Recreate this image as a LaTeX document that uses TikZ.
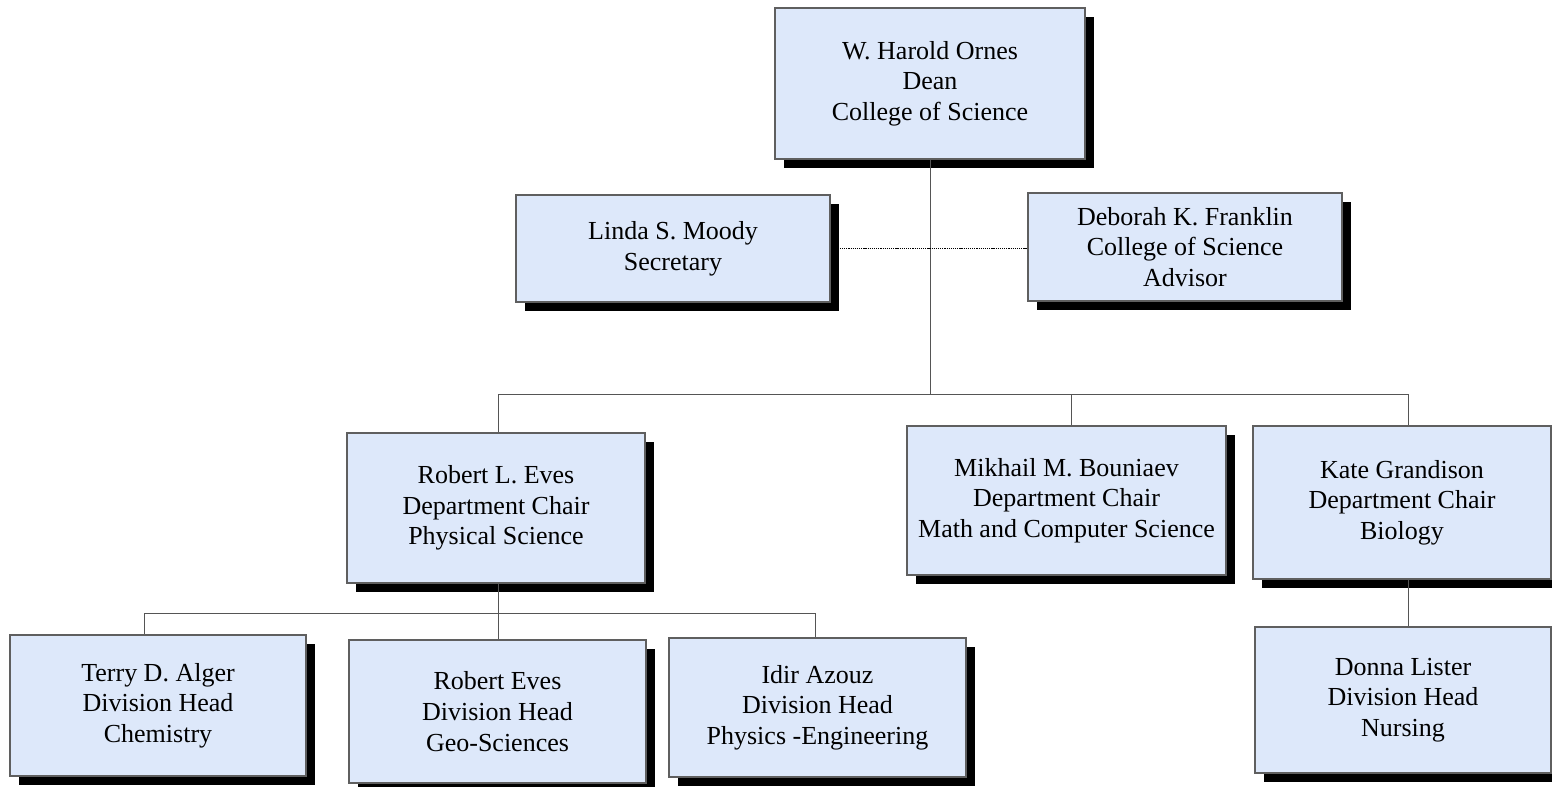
\documentclass[tikz,border=0pt]{standalone}
\usepackage{fontspec}
\setmainfont{Liberation Serif}
\usetikzlibrary{shadows}
\definecolor{boxfill}{RGB}{221,232,250}
\definecolor{boxline}{RGB}{95,95,95}
\definecolor{conncol}{RGB}{85,85,85}
\tikzset{
  orgbox/.style={draw=boxline, fill=boxfill, line width=0.8pt, inner sep=0pt,
    align=center, font=\fontsize{19.5pt}{23pt}\selectfont,
    drop shadow={shadow xshift=6.6pt, shadow yshift=-7pt, fill=black, opacity=1}},
  wh/.style 2 args={minimum width=#1*0.75pt, minimum height=#2*0.75pt},
  conn/.style={draw=conncol, line width=0.75pt},
  dotconn/.style={draw=black, line width=1.3pt, dash pattern=on 0.9pt off 0.7pt}
}
\begin{document}
\begin{tikzpicture}[x=0.75pt, y=-0.75pt]
\useasboundingbox (0,0) rectangle (1552,786);
% nodes
\node[orgbox, wh={310}{151}] (dean) at (930,83.5) {W. Harold Ornes\\Dean\\College of Science};
\node[orgbox, wh={314}{107}] (linda) at (673,248.5) {Linda S. Moody\\Secretary};
\node[orgbox, wh={314}{108}] (deborah) at (1185,247) {Deborah K. Franklin\\College of Science\\Advisor};
\node[orgbox, wh={298}{150}] (eves) at (496,508) {Robert L. Eves\\Department Chair\\Physical Science};
\node[orgbox, wh={319}{149}] (mikhail) at (1066.5,500.5) {Mikhail M. Bouniaev\\Department Chair\\Math and Computer Science};
\node[orgbox, wh={298}{153}] (kate) at (1402,502.5) {Kate Grandison\\Department Chair\\Biology};
\node[orgbox, wh={296}{141}] (terry) at (158,705.5) {Terry D. Alger\\Division Head\\Chemistry};
\node[orgbox, wh={297}{143}] (reves) at (497.5,711.5) {Robert Eves\\Division Head\\Geo-Sciences};
\node[orgbox, wh={297}{139}] (idir) at (817.5,707.5) {Idir Azouz\\Division Head\\Physics -Engineering};
\node[orgbox, wh={296}{146}] (donna) at (1403,700) {Donna Lister\\Division Head\\Nursing};
% bus coordinates
\coordinate (busA) at (498,394);
\coordinate (busD) at (930,394);
\coordinate (busM) at (1071,394);
\coordinate (busK) at (1408,394);
\coordinate (b1) at (144,613);
\coordinate (b2) at (498,613);
\coordinate (b3) at (815,613);
% connectors
\draw[conn] (dean.south) -- (busD);
\draw[conn] (busA) -- (busK);
\draw[conn] (busA) -- (eves.north -| busA);
\draw[conn] (busM) -- (mikhail.north -| busM);
\draw[conn] (busK) -- (kate.north -| busK);
\draw[conn] (eves.south -| b2) -- (b2);
\draw[conn] (b1) -- (b3);
\draw[conn] (b1) -- (terry.north -| b1);
\draw[conn] (b2) -- (reves.north -| b2);
\draw[conn] (b3) -- (idir.north -| b3);
\draw[conn] (kate.south -| busK) -- (donna.north -| busK);
\draw[dotconn] ([xshift=7pt]linda.east) -- (linda.east -| deborah.west);
\end{tikzpicture}
\end{document}
